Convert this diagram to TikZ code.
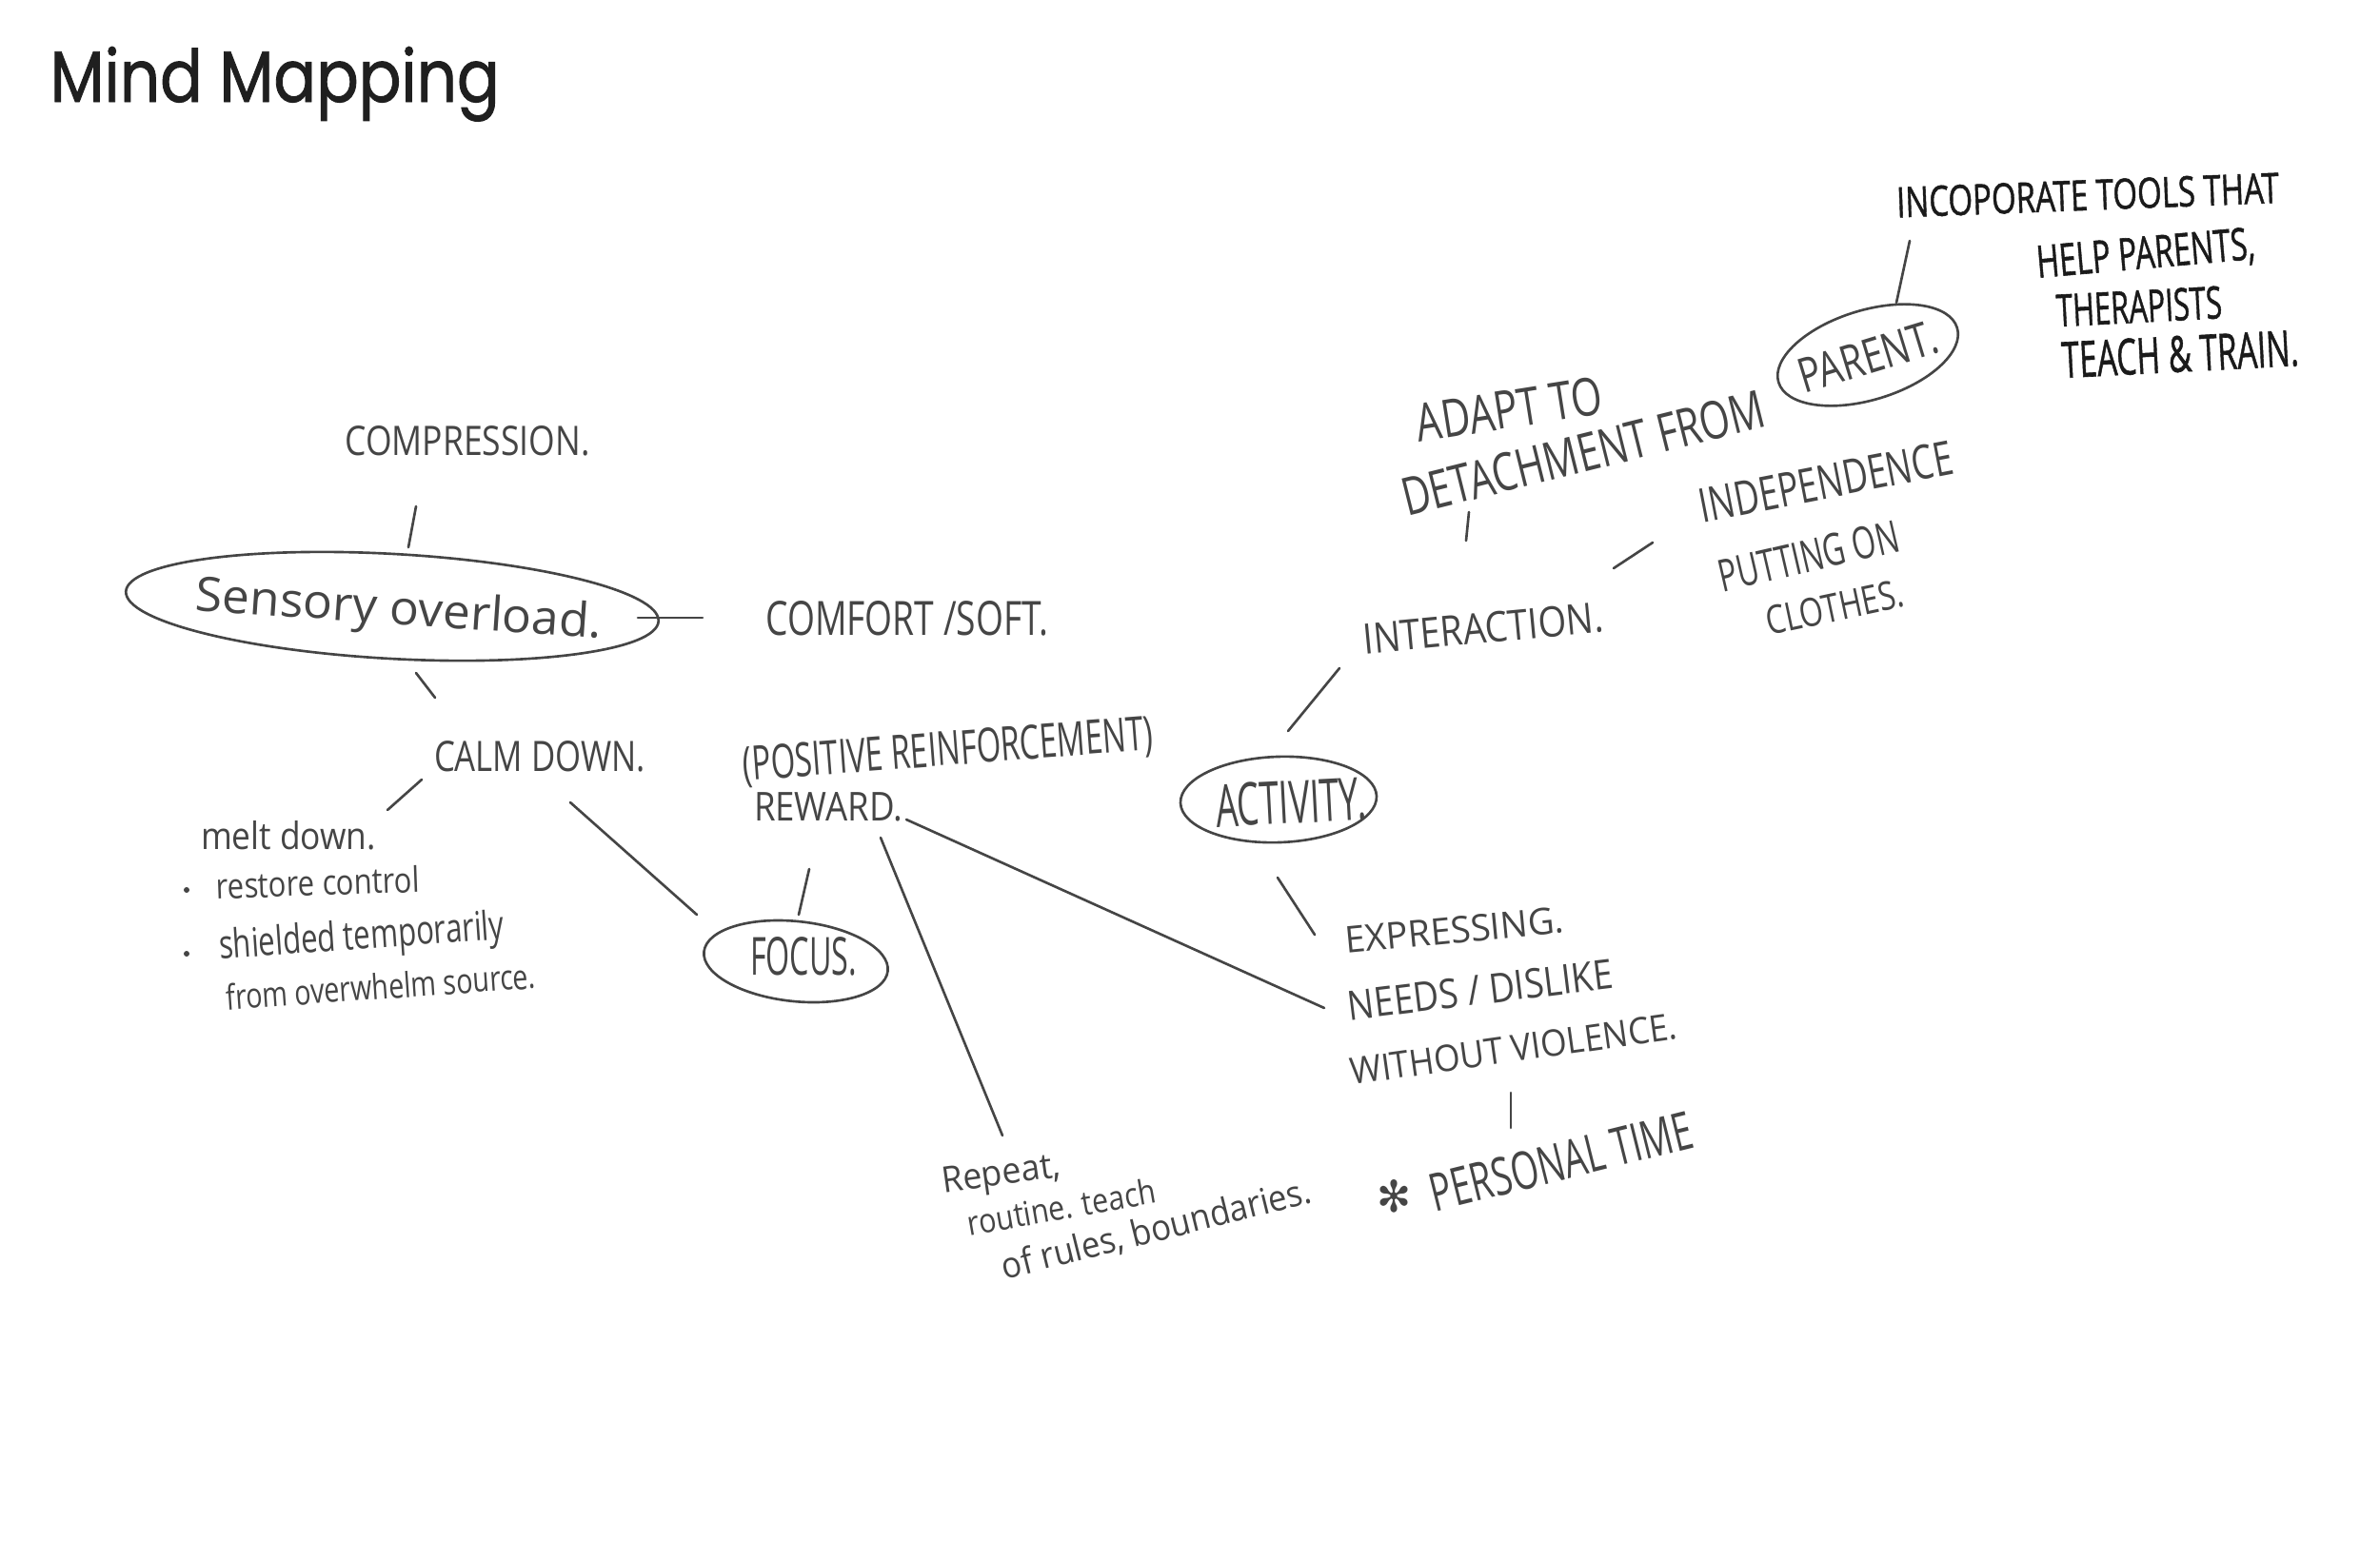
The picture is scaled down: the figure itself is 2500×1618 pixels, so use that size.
\documentclass[tikz,border=0pt]{standalone}
\usepackage{fontspec}
\usepackage{graphicx}
\usetikzlibrary{shapes.geometric}
\newfontfamily\hwfont{Open Sans}
\newfontfamily\mkfont[FakeBold=1.2]{Open Sans}
\newfontfamily\titlefont[FakeBold=1.2]{Poppins}
\newfontfamily\symfont{DejaVu Sans}
\newlength\pxu
\setlength\pxu{0.01cm}
\newcommand\hwt[3]{\resizebox{#1\pxu}{#2\pxu}{#3}}
\definecolor{pencil}{HTML}{454545}
\definecolor{marker}{HTML}{1A1A1A}
\begin{document}
\begin{tikzpicture}[x=0.01cm,y=-0.01cm,
  hw/.style={inner sep=0pt, text=pencil, font=\hwfont},
  mk/.style={inner sep=0pt, text=marker, font=\mkfont},
  bubble/.style={draw=pencil, ellipse, line width=0.75pt, inner sep=0pt},
  stroke/.style={draw=pencil, line width=0.75pt, line cap=round}]
\useasboundingbox (0,0) rectangle (2500,1618);
\fill[white] (0,0) rectangle (2500,1618);

% title
\node[anchor=base west, inner sep=0pt, text=black!88, font=\titlefont] (title) at (52,107) {\hwt{472}{58}{Mind Mapping}};

% bubbles
\node[bubble, minimum width=5.6cm, minimum height=1.1cm, rotate=-3.2] (sensE) at (412,637) {};
\node[bubble, minimum width=1.94cm, minimum height=0.84cm, rotate=-6] (focusE) at (836,1010) {};
\node[bubble, minimum width=2.06cm, minimum height=0.90cm, rotate=2] (actE) at (1343,840) {};
\node[bubble, minimum width=1.96cm, minimum height=0.94cm, rotate=17] (parE) at (1962,373) {};

% texts (left cluster)
\node[hw] (compr) at (491,463) {\hwt{257}{31}{COMPRESSION.}};
\node[hw, rotate=-4] (sens) at (419,643) {\hwt{428}{38}{Sensory overload.}};
\node[hw] (comf) at (953,650) {\hwt{297}{36}{COMFORT /SOFT.}};
\node[hw] (calm) at (567,795) {\hwt{222}{32}{CALM DOWN.}};
\node[hw] (melt) at (303,878) {\hwt{184}{30}{melt down.}};
\fill[pencil] (196,935) circle[radius=3];
\fill[pencil] (196,1002) circle[radius=3];
\node[hw, rotate=2] (rest) at (334,927) {\hwt{214}{28}{restore control}};
\node[hw, rotate=4] (shield) at (380,986) {\hwt{300}{32}{shielded temporarily}};
\node[hw, rotate=4] (from) at (400,1036) {\hwt{326}{28}{from overwhelm source.}};
\node[hw] (focus) at (844,1005) {\hwt{112}{40}{FOCUS.}};

% middle cluster
\node[hw, rotate=4.4] (pos) at (996,790) {\hwt{432}{36}{(POSITIVE REINFORCEMENT)}};
\node[hw] (rew) at (870,848) {\hwt{156}{30}{REWARD.}};
\node[hw, rotate=8] (rep) at (1052,1236) {\hwt{125}{27}{Repeat,}};
\node[hw, rotate=10] (rout) at (1115,1268) {\hwt{200}{27}{routine. teach}};
\node[hw, rotate=14] (rules) at (1215,1292) {\hwt{334}{29}{of rules, boundaries.}};

% activity cluster
\node[hw, rotate=3] (act) at (1356,843) {\hwt{158}{45}{ACTIVITY.}};
\node[hw, rotate=5.4] (inter) at (1558,660) {\hwt{253}{32}{INTERACTION.}};
\node[hw, rotate=5.5] (expr) at (1528,977) {\hwt{230}{28}{EXPRESSING.}};
\node[hw, rotate=7] (needs) at (1555,1040) {\hwt{280}{31}{NEEDS / DISLIKE}};
\node[hw, rotate=8] (without) at (1590,1102) {\hwt{346}{28}{WITHOUT VIOLENCE.}};
\node[hw, font=\symfont] (star) at (1464,1257) {\hwt{36}{34}{✻}};
\node[hw, rotate=14] (personal) at (1640,1220) {\hwt{282}{40}{PERSONAL TIME}};

% upper right cluster
\node[hw, rotate=9] (adapt) at (1585,430) {\hwt{197}{40}{ADAPT TO}};
\node[hw, rotate=14] (detach) at (1663,476) {\hwt{391}{40}{DETACHMENT FROM}};
\node[hw, rotate=17] (parent) at (1962,375) {\hwt{150}{36}{PARENT.}};
\node[hw, rotate=11] (indep) at (1918,506) {\hwt{270}{36}{INDEPENDENCE}};
\node[hw, rotate=13] (putt) at (1900,584) {\hwt{193}{34}{PUTTING ON}};
\node[hw, rotate=12] (cloth) at (1927,638) {\hwt{147}{30}{CLOTHES.}};

\node[mk, rotate=2.2] (incop) at (2193,205) {\hwt{402}{32}{INCOPORATE TOOLS THAT}};
\node[mk, rotate=5] (help) at (2254,268) {\hwt{230}{34}{HELP PARENTS,}};
\node[mk, rotate=3] (ther) at (2247,322) {\hwt{174}{34}{THERAPISTS}};
\node[mk, rotate=3] (teach) at (2290,372) {\hwt{249}{38}{TEACH \& TRAIN.}};

% connectors
\coordinate (c1a) at (437,532); \coordinate (c1b) at (429,575);
\coordinate (c2a) at (670,649); \coordinate (c2b) at (738,649);
\coordinate (c3a) at (437,707); \coordinate (c3b) at (457,733);
\coordinate (c4a) at (443,819); \coordinate (c4b) at (407,851);
\coordinate (c5a) at (599,843); \coordinate (c5b) at (732,961);
\coordinate (c6a) at (850,913); \coordinate (c6b) at (839,961);
\coordinate (c7a) at (925,880); \coordinate (c7b) at (1053,1193);
\coordinate (c8a) at (952,861); \coordinate (c8b) at (1391,1059);
\coordinate (c9a) at (1342,922); \coordinate (c9b) at (1381,982);
\coordinate (c10a) at (1353,768); \coordinate (c10b) at (1407,702);
\coordinate (c11a) at (1540,568); \coordinate (c11b) at (1543,538);
\coordinate (c12a) at (1695,597); \coordinate (c12b) at (1736,570);
\coordinate (c13a) at (1992,318); \coordinate (c13b) at (2006,253);
\coordinate (c14a) at (1587,1148); \coordinate (c14b) at (1587,1185);
\foreach \i in {1,...,14} {\draw[stroke] (c\i a) -- (c\i b);}
\end{tikzpicture}
\end{document}
